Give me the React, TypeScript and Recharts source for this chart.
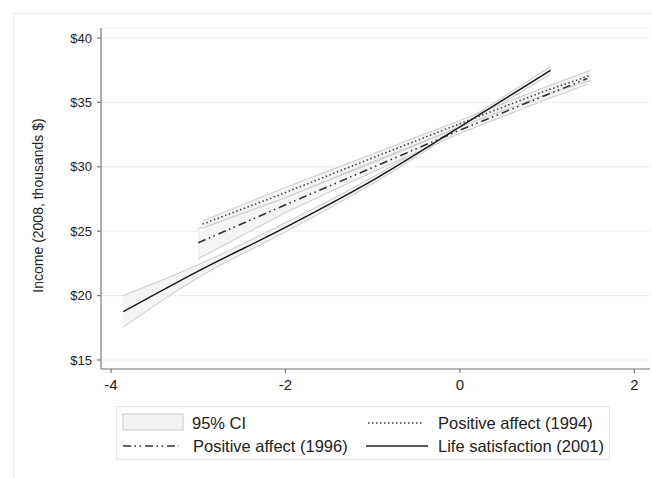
import { ComposedChart, Area, Line, XAxis, YAxis, CartesianGrid } from 'recharts'

// predictor (standardised) values and fitted income, thousands of 2008 dollars
const satX = [-3.86, -3.0, -2.0, -1.0, 0, 1.04]
const satFit = [18.75, 21.9, 25.3, 28.95, 33.1, 37.5]
const satLo = [17.55, 21.4, 24.95, 28.7, 32.9, 37.2]
const satHi = [20.0, 22.4, 25.65, 29.2, 33.3, 37.8]

const pa96X = [-3.0, -2.0, -1.0, 0, 1.0, 1.46]
const pa96Fit = [24.1, 27.05, 29.95, 32.85, 35.6, 36.85]
const pa96Lo = [22.85, 26.45, 29.6, 32.6, 35.25, 36.4]
const pa96Hi = [25.2, 27.65, 30.3, 33.1, 35.95, 37.35]

const pa94X = [-2.95, -2.0, -1.0, 0, 1.0, 1.5]
const pa94Fit = [25.55, 28.0, 30.7, 33.35, 35.95, 37.1]
const pa94Lo = [25.25, 27.6, 30.4, 33.1, 35.65, 36.7]
const pa94Hi = [25.8, 28.4, 31.0, 33.6, 36.25, 37.5]

const xTicks = [-4, -2, 0, 2]
const yTicks = [15, 20, 25, 30, 35, 40]

const legendLabels = ['95% CI', 'Positive affect (1994)', 'Positive affect (1996)', 'Life satisfaction (2001)']

const build = (xs: number[], fit: number[], lo: number[], hi: number[]) =>
  xs.map((x, i) => ({ x, fit: fit[i], band: [lo[i], hi[i]] }))

const satData = build(satX, satFit, satLo, satHi)
const pa96Data = build(pa96X, pa96Fit, pa96Lo, pa96Hi)
const pa94Data = build(pa94X, pa94Fit, pa94Lo, pa94Hi)

const FONT = '"Liberation Sans", Arial, sans-serif'
const DASHDOT = '8 3.5 1.5 3.5 1.5 4'
const DOTTED = '1.5 2.5'
const BAND_FILL = '#f3f3f3'
const BAND_STROKE = '#c9c9c9'

function ChartLegend() {
  return (
    <svg
      width={495}
      height={55}
      style={{ position: 'absolute', left: 116, top: 406, fontFamily: FONT }}
    >
      <rect x={0.5} y={0.5} width={493} height={53} fill="#fff" stroke="#e6e6e6" />
      <rect x={7} y={8} width={60} height={16} fill={BAND_FILL} stroke={BAND_STROKE} />
      <text x={76} y={23} fontSize={16.5} fill="#222">{legendLabels[0]}</text>
      <line x1={252} y1={17} x2={308} y2={17} stroke="#333" strokeWidth={1.5} strokeDasharray={DOTTED} />
      <text x={322} y={23} fontSize={16.5} fill="#222">{legendLabels[1]}</text>
      <line x1={7} y1={40} x2={63} y2={40} stroke="#333" strokeWidth={1.5} strokeDasharray={DASHDOT} />
      <text x={77} y={46} fontSize={16.5} fill="#222">{legendLabels[2]}</text>
      <line x1={250} y1={40} x2={312} y2={40} stroke="#222" strokeWidth={1.5} />
      <text x={322} y={46} fontSize={16.5} fill="#222">{legendLabels[3]}</text>
    </svg>
  )
}

export default function App() {
  return (
    <div style={{ position: 'absolute', left: 0, top: 0, width: 652, height: 478, background: '#fff' }}>
      <div
        style={{
          position: 'absolute',
          left: 13,
          top: 13,
          width: 660,
          height: 480,
          borderLeft: '1px solid #ececec',
          borderTop: '1px solid #ececec'
        }}
      />
      <div style={{ position: 'absolute', left: 0, top: 0 }}>
        <ComposedChart
          width={652}
          height={478}
          margin={{ top: 28, right: 2, left: 41, bottom: 79 }}
          style={{ fontFamily: FONT }}
        >
          <CartesianGrid vertical={false} stroke="#ededed" strokeWidth={1} />
          <XAxis
            dataKey="x"
            type="number"
            domain={[-4.115, 2.18]}
            ticks={xTicks}
            allowDataOverflow
            height={30}
            stroke="#7a7a7a"
            strokeWidth={1.2}
            tickSize={4}
            tickMargin={6}
            tick={{ fill: '#222', fontSize: 15 }}
            tickFormatter={v => String(v)}
          />
          <YAxis
            type="number"
            domain={[14.3, 40.78]}
            ticks={yTicks}
            allowDataOverflow
            width={60}
            stroke="#7a7a7a"
            strokeWidth={1.2}
            tickSize={4}
            tickMargin={5}
            tick={{ fill: '#222', fontSize: 13 }}
            tickFormatter={v => `$${v}`}
            label={{
              position: 'left',
              content: (p: any) => {
                const vb = p.viewBox
                const cx = vb.x + 2
                const cy = vb.y + vb.height / 2 + 7
                return (
                  <text
                    x={cx}
                    y={cy}
                    transform={`rotate(-90 ${cx} ${cy})`}
                    textAnchor="middle"
                    fontSize={14}
                    fill="#222"
                    fontFamily={FONT}
                  >
                    Income (2008, thousands $)
                  </text>
                )
              }
            }}
          />
          <Area data={satData} dataKey="band" type="monotone" fill={BAND_FILL} fillOpacity={0.9} stroke={BAND_STROKE} strokeWidth={1} isAnimationActive={false} />
          <Area data={pa96Data} dataKey="band" type="linear" fill={BAND_FILL} fillOpacity={0.9} stroke={BAND_STROKE} strokeWidth={1} isAnimationActive={false} />
          <Area data={pa94Data} dataKey="band" type="linear" fill={BAND_FILL} fillOpacity={0.9} stroke={BAND_STROKE} strokeWidth={1} isAnimationActive={false} />
          <Line data={pa94Data} dataKey="fit" type="linear" stroke="#444" strokeWidth={1.6} strokeDasharray={DOTTED} dot={false} isAnimationActive={false} />
          <Line data={pa96Data} dataKey="fit" type="linear" stroke="#333" strokeWidth={1.6} strokeDasharray={DASHDOT} dot={false} isAnimationActive={false} />
          <Line data={satData} dataKey="fit" type="monotone" stroke="#1a1a1a" strokeWidth={1.5} dot={false} isAnimationActive={false} />
        </ComposedChart>
      </div>
      <ChartLegend />
    </div>
  )
}
